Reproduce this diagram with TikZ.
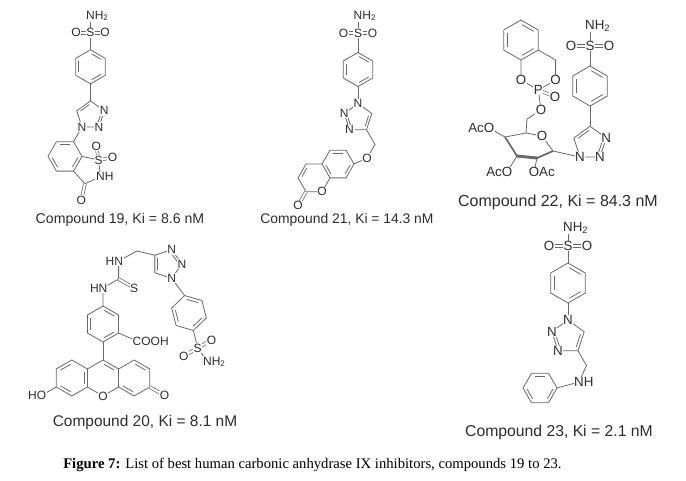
\documentclass[tikz,border=0pt]{standalone}
\usepackage{fontspec}
\setmainfont{Liberation Serif}
\setsansfont{Liberation Sans}
\usetikzlibrary{calc}
\definecolor{bondc}{RGB}{105,105,105}
\definecolor{labc}{RGB}{45,45,45}
\newcommand{\ringpts}[6]{%
  \foreach \k in {1,...,#6}{\coordinate (#1\k) at ({#2+#4*cos(#5+360/#6*(\k-1))},{#3+#4*sin(#5+360/#6*(\k-1))});}%
  \coordinate (#1c) at (#2,#3);}
\newcommand{\hexdraw}[1]{\draw[bond] (#11)--(#12)--(#13)--(#14)--(#15)--(#16)--cycle;}
\newcommand{\pentdraw}[1]{\draw[bond] (#11)--(#12)--(#13)--(#14)--(#15)--cycle;}
\newcommand{\inl}[3]{\draw[bond,shorten <=1pt,shorten >=1pt] ($(#1)!0.2!(#3)$) -- ($(#2)!0.2!(#3)$);}
\tikzset{
  bond/.style={draw=bondc,line width=0.6pt,line join=round},
  dbl/.style={draw=bondc,line width=0.55pt,double=white,double distance=1.5pt},
  atom/.style={fill=white,inner sep=0.5pt,text=labc,font=\sffamily\fontsize{9}{9}\selectfont},
  atomL/.style={atom,font=\sffamily\fontsize{10}{10}\selectfont},
  cname/.style={text=labc,inner sep=0pt},
}
\begin{document}
\begin{tikzpicture}[x=0.75pt,y=-0.75pt]
\useasboundingbox (0,0) rectangle (686,480);
\fill[white] (0,0) rectangle (686,480);
% ================= Compound 19 =================
\ringpts{ba}{90.5}{66.8}{17}{-90}{6}
\ringpts{ta}{90.5}{115.3}{14.46}{-90}{5}
\ringpts{sb}{65}{156.4}{17}{0}{6}
\ringpts{sp}{87.9}{169.6}{14.46}{-114}{5}
\coordinate (n19) at (90.5,16);
\coordinate (s19) at (90.5,32.8);
\coordinate (o19a) at (76,32.8);
\coordinate (o19b) at (105,32.8);
\coordinate (o19c) at ($(sp2)+(-100:14)$);
\coordinate (o19e) at ($(sp2)+(-10:14)$);
\coordinate (o19d) at ($(sp4)+(102:17)$);
\draw[bond] (n19)--(s19);
\draw[dbl] (s19)--(o19a); \draw[dbl] (s19)--(o19b);
\draw[bond] (s19)--(ba1);
\hexdraw{ba} \inl{ba1}{ba2}{bac} \inl{ba3}{ba4}{bac} \inl{ba5}{ba6}{bac}
\draw[bond] (ba4)--(ta1);
\pentdraw{ta} \inl{ta1}{ta5}{tac} \inl{ta2}{ta3}{tac}
\draw[bond] (ta4)--(sb6);
\hexdraw{sb} \inl{sb5}{sb6}{sbc} \inl{sb3}{sb4}{sbc} \inl{sb1}{sb2}{sbc}
\draw[bond] (sp1)--(sp2)--(sp3)--(sp4)--(sp5);
\draw[dbl] (sp4)--(o19d);
\draw[dbl] (sp2)--(o19c); \draw[dbl] (sp2)--(o19e);
% ================= Compound 21 =================
\ringpts{bb}{358}{69.5}{17}{-90}{6}
\ringpts{tb}{358}{117.96}{14.46}{-90}{5}
\ringpts{cr}{338}{164}{16}{0}{6}
\ringpts{cl}{314}{177.86}{16}{0}{6}
\coordinate (n21) at (358,16);
\coordinate (s21) at (358,33);
\coordinate (o21a) at (343.5,33);
\coordinate (o21b) at (372.5,33);
\coordinate (ch21) at ($(tb3)+(60:17)$);
\coordinate (oe21) at ($(ch21)+(120:16)$);
\coordinate (oc21) at ($(cl3)+(120:16)$);
\draw[bond] (n21)--(s21);
\draw[dbl] (s21)--(o21a); \draw[dbl] (s21)--(o21b);
\draw[bond] (s21)--(bb1);
\hexdraw{bb} \inl{bb1}{bb2}{bbc} \inl{bb3}{bb4}{bbc} \inl{bb5}{bb6}{bbc}
\draw[bond] (bb4)--(tb1);
\pentdraw{tb} \inl{tb2}{tb3}{tbc} \inl{tb4}{tb5}{tbc}
\draw[bond] (tb3)--(ch21)--(oe21)--(cr1);
\hexdraw{cr} \inl{cr5}{cr6}{crc} \inl{cr1}{cr2}{crc} \inl{cr3}{cr4}{crc}
\draw[bond] (cl1)--(cl2)--(cl3)--(cl4)--(cl5)--(cl6);
\inl{cl4}{cl5}{clc}
\draw[dbl] (cl3)--(oc21);
% ================= Compound 22 =================
\ringpts{bc}{590}{86}{20}{-90}{6}
\ringpts{tc}{590}{143.24}{17.01}{-90}{5}
\ringpts{bp}{521}{40}{20}{-90}{6}
\ringpts{pr}{538.3}{70}{20}{-90}{6}
\coordinate (n22) at (590,26);
\coordinate (s22) at (590,46);
\coordinate (o22a) at (571,46);
\coordinate (o22b) at (609,46);
\coordinate (c5) at (526,133);
\coordinate (o5) at (542,136);
\coordinate (c1) at (553,151);
\coordinate (c2) at (537,158);
\coordinate (c3) at (517,156);
\coordinate (c4) at (505,137);
\coordinate (o4) at (489,128);
\coordinate (o3) at (507,172);
\coordinate (o2) at (534,172);
\coordinate (ch22) at (527,119);
\coordinate (oe22) at (541,110);
\coordinate (op22) at ($(pr4)+(22:18)$);
\draw[bond] (n22)--(s22);
\draw[dbl] (s22)--(o22a); \draw[dbl] (s22)--(o22b);
\draw[bond] (s22)--(bc1);
\hexdraw{bc} \inl{bc1}{bc2}{bcc} \inl{bc3}{bc4}{bcc} \inl{bc5}{bc6}{bcc}
\draw[bond] (bc4)--(tc1);
\pentdraw{tc} \inl{tc1}{tc5}{tcc} \inl{tc2}{tc3}{tcc}
\draw[bond] (c1)--(tc4);
\draw[bond] (c4)--(c5)--(o5)--(c1);
\draw[draw=bondc,line width=1.3pt] (c4)--(c3);
\draw[draw=bondc,line width=2.2pt,line cap=round] (c3)--(c2);
\draw[draw=bondc,line width=1.3pt] (c2)--(c1);
\draw[bond] (c4)--(o4); \draw[bond] (c3)--(o3); \draw[bond] (c2)--(o2);
\draw[bond] (c5)--(ch22)--(oe22)--(pr4);
\hexdraw{bp} \inl{bp1}{bp2}{bpc} \inl{bp3}{bp4}{bpc} \inl{bp5}{bp6}{bpc}
\draw[bond] (pr1)--(pr2)--(pr3)--(pr4)--(pr5)--(pr6);
\draw[dbl] (pr4)--(op22);
% ================= Compound 20 =================
\ringpts{xl}{71.82}{378}{18}{-90}{6}
\ringpts{xm}{103}{378}{18}{-90}{6}
\ringpts{xr}{134.18}{378}{18}{-90}{6}
\ringpts{ar}{103}{324}{18}{-90}{6}
\ringpts{td}{167}{264}{15}{0}{5}
\ringpts{sr}{189}{313}{18}{-104}{6}
\coordinate (ho20) at ($(xl5)+(150:17)$);
\coordinate (ok20) at ($(xr3)+(30:17)$);
\coordinate (cooh) at (137,341);
\coordinate (nl20) at (103,288);
\coordinate (ct20) at (118.6,279);
\coordinate (st20) at (134.2,288);
\coordinate (nu20) at (118.6,261);
\coordinate (ch20) at (137,251);
\coordinate (s20) at ($(sr4)+(76:18)$);
\coordinate (o20a) at ($(s20)+(150:16)$);
\coordinate (o20b) at ($(s20)+(-30:16)$);
\coordinate (n20) at ($(s20)+(55:17)$);
\hexdraw{xl} \hexdraw{xm} \hexdraw{xr}
\inl{xl1}{xl6}{xlc} \inl{xl4}{xl5}{xlc} \inl{xl2}{xl3}{xlc}
\inl{xm1}{xm2}{xmc}
\inl{xr1}{xr2}{xrc} \inl{xr4}{xr5}{xrc}
\draw[bond] (xl5)--(ho20);
\draw[dbl] (xr3)--(ok20);
\draw[bond] (xm1)--(ar4);
\hexdraw{ar} \inl{ar1}{ar2}{arc} \inl{ar3}{ar4}{arc} \inl{ar5}{ar6}{arc}
\draw[bond] (ar3)--(cooh);
\draw[bond] (ar1)--(nl20)--(ct20);
\draw[dbl] (ct20)--(st20);
\draw[bond] (ct20)--(nu20)--(ch20)--(td4);
\pentdraw{td} \inl{td3}{td4}{tdc} \inl{td5}{td1}{tdc}
\draw[bond] (td2)--(sr1);
\hexdraw{sr} \inl{sr1}{sr2}{src} \inl{sr3}{sr4}{src} \inl{sr5}{sr6}{src}
\draw[bond] (sr4)--(s20);
\draw[dbl] (s20)--(o20a); \draw[dbl] (s20)--(o20b);
\draw[bond] (s20)--(n20);
% ================= Compound 23 =================
\ringpts{be}{568}{283}{20}{-90}{6}
\ringpts{te}{568}{337}{17}{-90}{5}
\ringpts{ph}{540}{388}{17}{0}{6}
\coordinate (n23) at (568,228);
\coordinate (s23) at (568,246);
\coordinate (o23a) at (549,246);
\coordinate (o23b) at (587,246);
\coordinate (ch23) at ($(te3)+(60:17)$);
\coordinate (nh23) at (579,382);
\draw[bond] (n23)--(s23);
\draw[dbl] (s23)--(o23a); \draw[dbl] (s23)--(o23b);
\draw[bond] (s23)--(be1);
\hexdraw{be} \inl{be1}{be2}{bec} \inl{be3}{be4}{bec} \inl{be5}{be6}{bec}
\draw[bond] (be4)--(te1);
\pentdraw{te} \inl{te2}{te3}{tec} \inl{te4}{te5}{tec}
\draw[bond] (te3)--(ch23)--(nh23)--(ph1);
\hexdraw{ph} \inl{ph5}{ph6}{phc} \inl{ph1}{ph2}{phc} \inl{ph3}{ph4}{phc}
% ================= atom labels =================
% 19
\node[atom] (L19n) at (n19) {N\rlap{H\textsubscript{2}}};
\node[atom] (L19s) at (s19) {S};
\node[atom] (L19oa) at (o19a) {O};
\node[atom] (L19ob) at (o19b) {O};
\node[atom] (L19n3) at (ta2) {N};
\node[atom] (L19n2) at (ta3) {N};
\node[atom] (L19n1) at (ta4) {N};
\node[atom] (L19s2) at (sp2) {S};
\node[atom] (L19nh) at (sp3) {N\rlap{H}};
\node[atom] (L19oc) at (o19c) {O};
\node[atom] (L19oe) at (o19e) {O};
\node[atom] (L19od) at (o19d) {O};
% 21
\node[atom] (L21n) at (n21) {N\rlap{H\textsubscript{2}}};
\node[atom] (L21s) at (s21) {S};
\node[atom] (L21oa) at (o21a) {O};
\node[atom] (L21ob) at (o21b) {O};
\node[atom] (L21n1) at (tb1) {N};
\node[atom] (L21n3) at (tb4) {N};
\node[atom] (L21n2) at (tb5) {N};
\node[atom] (L21oe) at (oe21) {O};
\node[atom] (L21o1) at (cl2) {O};
\node[atom] (L21oc) at (oc21) {O};
% 22
\node[atomL] (L22n) at (n22) {N\rlap{H\textsubscript{2}}};
\node[atomL] (L22s) at (s22) {S};
\node[atomL] (L22oa) at (o22a) {O};
\node[atomL] (L22ob) at (o22b) {O};
\node[atomL] (L22n3) at (tc2) {N};
\node[atomL] (L22n2) at (tc3) {N};
\node[atomL] (L22n1) at (tc4) {N};
\node[atomL] (L22o5) at (o5) {O};
\node[atomL] (L22o4) at (o4) {\llap{Ac}O};
\node[atomL] (L22o3) at (o3) {\llap{Ac}O};
\node[atomL] (L22o2) at (o2) {O\rlap{Ac}};
\node[atomL] (L22oe) at (oe22) {O};
\node[atomL] (L22p) at (pr4) {P};
\node[atomL] (L22or) at (pr3) {O};
\node[atomL] (L22ol) at (pr5) {O};
\node[atomL] (L22op) at (op22) {O};
% 20
\node[atom] (L20ho) at (ho20) {\llap{H}O};
\node[atom] (L20o) at (xm4) {O};
\node[atom] (L20ok) at (ok20) {O};
\node[atom] (L20co) at (cooh) {C\rlap{OOH}};
\node[atom] (L20nl) at (nl20) {\llap{H}N};
\node[atom] (L20st) at (st20) {S};
\node[atom] (L20nu) at (nu20) {\llap{H}N};
\node[atom] (L20n2) at (td1) {N};
\node[atom] (L20n1) at (td2) {N};
\node[atom] (L20n3) at (td5) {N};
\node[atom] (L20s) at (s20) {S};
\node[atom] (L20oa) at (o20a) {O};
\node[atom] (L20ob) at (o20b) {O};
\node[atom] (L20n) at (n20) {N\rlap{H\textsubscript{2}}};
% 23
\node[atomL] (L23n) at (n23) {N\rlap{H\textsubscript{2}}};
\node[atomL] (L23s) at (s23) {S};
\node[atomL] (L23oa) at (o23a) {O};
\node[atomL] (L23ob) at (o23b) {O};
\node[atomL] (L23n1) at (te1) {N};
\node[atomL] (L23n3) at (te4) {N};
\node[atomL] (L23n2) at (te5) {N};
\node[atomL] (L23nh) at (nh23) {N\rlap{H}};
% ================= compound names =================
\node[cname,font=\sffamily\fontsize{10.6}{12}\selectfont] (cap19) at (120,220) {Compound 19, Ki = 8.6 nM};
\node[cname,font=\sffamily\fontsize{10.4}{12}\selectfont] (cap21) at (347,220) {Compound 21, Ki = 14.3 nM};
\node[cname,font=\sffamily\fontsize{12}{14}\selectfont] (cap22) at (558,202) {Compound 22, Ki = 84.3 nM};
\node[cname,font=\sffamily\fontsize{11.6}{13}\selectfont] (cap20) at (145,422) {Compound 20, Ki = 8.1 nM};
\node[cname,font=\sffamily\fontsize{11.8}{13}\selectfont] (cap23) at (559,432) {Compound 23, Ki = 2.1 nM};
\node[anchor=west,inner sep=0pt,text=black,font=\fontsize{11}{13}\selectfont] (caption) at (63,465) {\textbf{Figure 7:} List of best human carbonic anhydrase IX inhibitors, compounds 19 to 23.};
\end{tikzpicture}
\end{document}
